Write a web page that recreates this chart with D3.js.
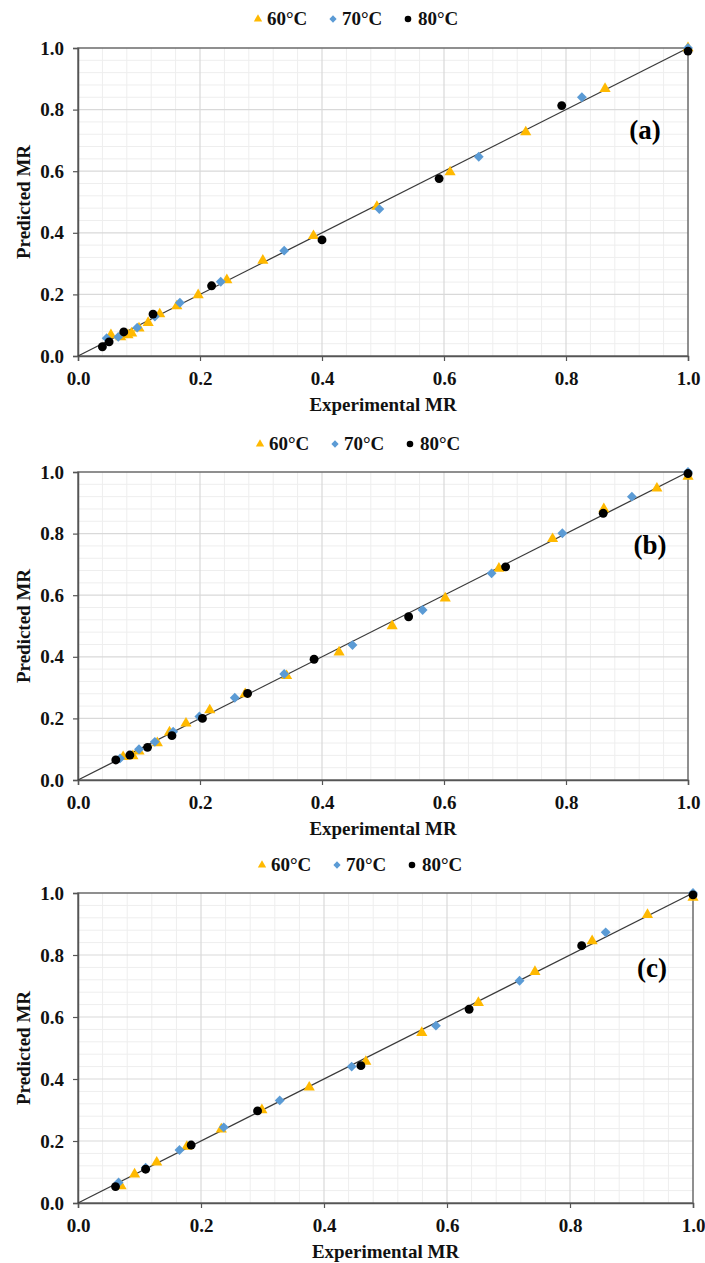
<!DOCTYPE html>
<html>
<head>
<meta charset="utf-8">
<script src="https://cdn.jsdelivr.net/npm/d3@7"></script>
<style>
  body { margin: 0; background: #fff; }
  svg text { font-family: "Liberation Serif", "Times New Roman", serif !important; font-weight: bold; }
</style>
</head>
<body>
<svg id="chart" width="705" height="1263"></svg>
<script>
// tick labels and legend
const tickValues = [0.0, 0.2, 0.4, 0.6, 0.8, 1.0];
const seriesNames = ['60°C', '70°C', '80°C'];
const panelLabels = ['(a)', '(b)', '(c)'];

// panel (a): [experimental, predicted]
const a60 = [[0.054,0.068],[0.070,0.062],[0.082,0.068],[0.088,0.074],[0.100,0.090],[0.115,0.108],[0.134,0.136],
  [0.162,0.162],[0.197,0.198],[0.244,0.247],[0.303,0.310],[0.386,0.390],[0.490,0.485],[0.610,0.597],
  [0.734,0.727],[0.864,0.868],[1.000,1.000]];
const a70 = [[0.047,0.058],[0.066,0.062],[0.097,0.092],[0.126,0.128],[0.167,0.173],[0.234,0.241],[0.338,0.342],
  [0.494,0.477],[0.657,0.647],[0.826,0.840],[1.000,1.000]];
const a80 = [[0.040,0.030],[0.051,0.046],[0.075,0.078],[0.123,0.136],[0.219,0.228],[0.400,0.377],[0.592,0.576],
  [0.793,0.813],[1.000,0.990]];

// panel (b)
const b60 = [[0.074,0.075],[0.090,0.078],[0.100,0.093],[0.130,0.120],[0.150,0.155],[0.177,0.184],[0.216,0.227],
  [0.274,0.279],[0.342,0.338],[0.428,0.415],[0.515,0.500],[0.602,0.590],[0.690,0.687],[0.778,0.783],
  [0.862,0.880],[0.949,0.947],[1.000,0.985]];
const b70 = [[0.069,0.070],[0.100,0.100],[0.126,0.124],[0.156,0.157],[0.199,0.206],[0.257,0.267],[0.338,0.344],
  [0.450,0.438],[0.565,0.552],[0.678,0.671],[0.794,0.801],[0.908,0.920],[1.000,1.000]];
const b80 = [[0.062,0.065],[0.085,0.081],[0.114,0.106],[0.154,0.144],[0.204,0.200],[0.278,0.281],[0.387,0.392],
  [0.542,0.530],[0.701,0.692],[0.861,0.866],[1.000,0.995]];

// panel (c)
const c60 = [[0.070,0.055],[0.092,0.093],[0.128,0.131],[0.177,0.182],[0.233,0.238],[0.299,0.300],[0.376,0.373],
  [0.468,0.456],[0.559,0.549],[0.651,0.646],[0.743,0.746],[0.836,0.845],[0.926,0.930],[1.000,0.985]];
const c70 = [[0.066,0.066],[0.110,0.114],[0.165,0.171],[0.237,0.244],[0.328,0.331],[0.445,0.440],[0.582,0.572],
  [0.718,0.717],[0.858,0.873],[1.000,1.000]];
const c80 = [[0.061,0.053],[0.110,0.109],[0.184,0.187],[0.292,0.297],[0.460,0.443],[0.636,0.625],[0.819,0.830],
  [1.000,0.994]];

const panels = [
  { series: [a60, a70, a80], top: 48,  bottom: 356,  right: 688, legendY: 18,  legendDx: 0, labelX: 645, labelY: 139 },
  { series: [b60, b70, b80], top: 472, bottom: 780,  right: 688, legendY: 443, legendDx: 2, labelX: 650, labelY: 554 },
  { series: [c60, c70, c80], top: 893, bottom: 1203, right: 693, legendY: 864, legendDx: 4, labelX: 652, labelY: 977 }
];

const colors = ['#FFB900', '#5B9BD5', '#000000'];
const symbols = [d3.symbolTriangle, d3.symbolDiamond2, d3.symbolCircle];
const markSizes = [54, 62, 62];
const legendSizes = [30, 34, 34];
const left = 78;
const fontSize = 19;

const svg = d3.select('#chart');
svg.append('rect').attr('width', 705).attr('height', 1263).attr('fill', '#fff');

panels.forEach((p, pi) => {
  const x = d3.scaleLinear().domain([0, 1]).range([left, p.right]);
  const y = d3.scaleLinear().domain([0, 1]).range([p.bottom, p.top]);
  const g = svg.append('g');

  // minor grid every 0.04
  const minor = d3.range(1, 25).map(i => i * 0.04).filter(v => Math.abs(v * 5 - Math.round(v * 5)) > 1e-6);
  g.selectAll('.mx').data(minor).enter().append('line')
    .attr('x1', d => x(d)).attr('x2', d => x(d)).attr('y1', p.top).attr('y2', p.bottom)
    .attr('stroke', '#eeeeee').attr('stroke-width', 1);
  g.selectAll('.my').data(minor).enter().append('line')
    .attr('y1', d => y(d)).attr('y2', d => y(d)).attr('x1', left).attr('x2', p.right)
    .attr('stroke', '#eeeeee').attr('stroke-width', 1);

  // major grid
  g.selectAll('.gx').data(tickValues.slice(1, -1)).enter().append('line')
    .attr('x1', d => x(d)).attr('x2', d => x(d)).attr('y1', p.top).attr('y2', p.bottom)
    .attr('stroke', '#d9d9d9').attr('stroke-width', 1.2);
  g.selectAll('.gy').data(tickValues.slice(1, -1)).enter().append('line')
    .attr('y1', d => y(d)).attr('y2', d => y(d)).attr('x1', left).attr('x2', p.right)
    .attr('stroke', '#d9d9d9').attr('stroke-width', 1.2);

  // plot border
  g.append('rect')
    .attr('x', left).attr('y', p.top)
    .attr('width', p.right - left).attr('height', p.bottom - p.top)
    .attr('fill', 'none').attr('stroke', '#6b6b6b').attr('stroke-width', 1.5);

  // axes
  const yAxis = g.append('g')
    .attr('transform', `translate(${left},0)`)
    .call(d3.axisLeft(y).tickValues(tickValues).tickFormat(d3.format('.1f')).tickSizeOuter(0).tickSize(5).tickPadding(9));
  const xAxis = g.append('g')
    .attr('transform', `translate(0,${p.bottom})`)
    .call(d3.axisBottom(x).tickValues(tickValues).tickFormat(d3.format('.1f')).tickSizeOuter(0).tickSize(5).tickPadding(11));
  [xAxis, yAxis].forEach(ax => {
    ax.attr('font-family', null).attr('font-size', null);
    ax.select('.domain').attr('stroke', '#555').attr('stroke-width', 1.5);
    ax.selectAll('.tick line').attr('stroke', '#555').attr('stroke-width', 1.2);
    ax.selectAll('.tick text').attr('fill', '#111')
      .style('font-size', fontSize + 'px');
  });

  // axis titles
  g.append('text')
    .attr('x', (left + p.right) / 2).attr('y', p.bottom + 55)
    .attr('text-anchor', 'middle').style('font-size', fontSize + 'px').attr('fill', '#111')
    .text('Experimental MR');
  g.append('text')
    .attr('transform', `translate(30,${(p.top + p.bottom) / 2}) rotate(-90)`)
    .attr('text-anchor', 'middle').style('font-size', fontSize + 'px').attr('fill', '#111')
    .text('Predicted MR');

  // 1:1 line
  g.append('line')
    .attr('x1', x(0)).attr('y1', y(0)).attr('x2', x(1)).attr('y2', y(1))
    .attr('stroke', '#3a3a3a').attr('stroke-width', 1.3);

  // markers
  p.series.forEach((s, si) => {
    g.append('g').selectAll('path').data(s).enter().append('path')
      .attr('d', d3.symbol().type(symbols[si]).size(markSizes[si]))
      .attr('transform', d => `translate(${x(d[0])},${y(d[1])})`)
      .attr('fill', colors[si]);
  });

  // legend
  const legendX = [[258, 267], [333, 342], [408, 418]];
  seriesNames.forEach((name, si) => {
    const lx = legendX[si][0] + p.legendDx;
    g.append('path')
      .attr('d', d3.symbol().type(symbols[si]).size(legendSizes[si]))
      .attr('transform', `translate(${lx},${p.legendY + 1})`)
      .attr('fill', colors[si]);
    g.append('text')
      .attr('x', legendX[si][1] + p.legendDx).attr('y', p.legendY + 7)
      .style('font-size', fontSize + 'px').attr('fill', '#111')
      .text(name);
  });

  // panel label
  g.append('text')
    .attr('x', p.labelX).attr('y', p.labelY)
    .attr('text-anchor', 'middle').style('font-size', '27px').attr('fill', '#000')
    .text(panelLabels[pi]);
});
</script>
</body>
</html>
